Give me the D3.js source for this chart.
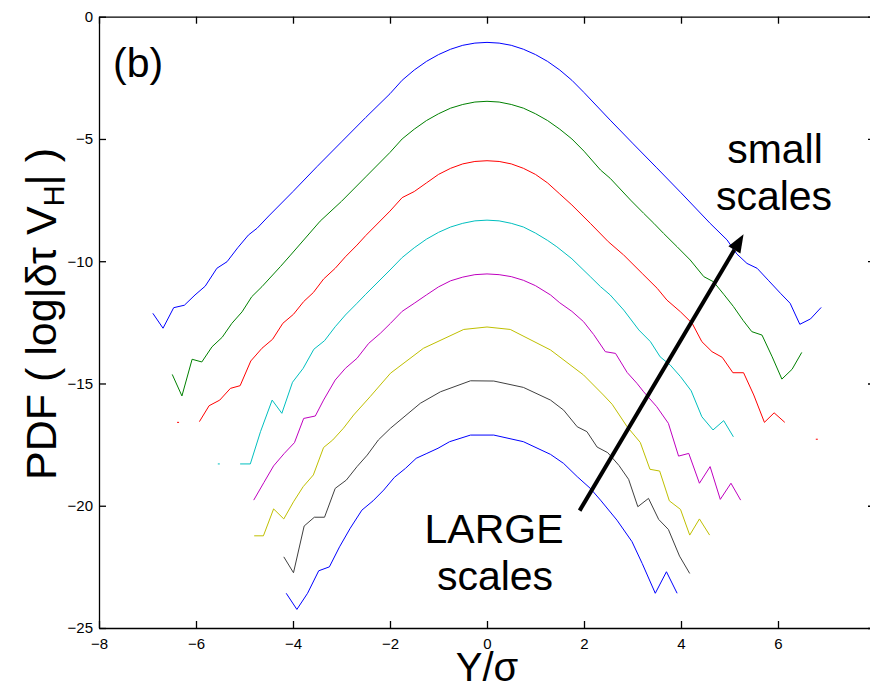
<!DOCTYPE html>
<html>
<head>
<meta charset="utf-8">
<script src="https://cdn.jsdelivr.net/npm/d3@7"></script>
<style>
  body { margin: 0; background: #fff; }
  svg { display: block; font-family: "Liberation Sans", Arial, Helvetica, sans-serif; }
  .axis path, .axis line { stroke: #000; stroke-width: 1.3; }
  .axis text { font-size: 15px; fill: #000; }
</style>
</head>
<body>
<svg id="chart" width="870" height="690"></svg>
<script>
// tick values
const xTicks = [-8, -6, -4, -2, 0, 2, 4, 6, 8];
const yTicks = [-25, -20, -15, -10, -5, 0];

// Y/sigma positions and log PDF values of each curve (null = empty bin)
const ys1 = [-6.89, -6.68, -6.46, -6.24, -6.02, -5.81, -5.57, -5.36, -5.14, -4.92, -4.74, -4.5, -4.0, -3.5, -3.0, -2.5, -2.0, -1.75, -1.5, -1.25, -1.0, -0.75, -0.5, -0.25, 0, 0.25, 0.5, 0.75, 1.0, 1.25, 1.5, 1.75, 2.0, 2.54, 3.0, 3.5, 4.0, 4.6, 4.95, 5.15, 5.36, 5.57, 5.81, 6.05, 6.25, 6.45, 6.67, 6.89];
const pdf1 = [-12.13, -12.74, -11.90, -11.80, -11.38, -11.02, -10.29, -10.02, -9.45, -8.93, -8.65, -8.15, -7.15, -6.12, -5.12, -4.12, -3.15, -2.6, -2.18, -1.83, -1.55, -1.33, -1.17, -1.08, -1.05, -1.08, -1.17, -1.33, -1.55, -1.83, -2.18, -2.6, -3.1, -4.23, -5.17, -6.18, -7.2, -8.45, -9.13, -9.7, -10.09, -10.29, -10.8, -11.31, -11.72, -12.58, -12.36, -11.89];

const ys2 = [-6.49, -6.29, -6.08, -5.88, -5.67, -5.46, -5.26, -5.05, -4.85, -4.64, -4.26, -4.05, -3.44, -3.0, -2.5, -2.0, -1.75, -1.5, -1.25, -1.0, -0.75, -0.5, -0.25, 0, 0.25, 0.5, 0.75, 1.0, 1.25, 1.5, 1.75, 2.0, 2.34, 2.54, 2.96, 3.23, 3.44, 3.64, 3.92, 4.19, 4.47, 4.67, 4.88, 5.08, 5.28, 5.46, 5.67, 5.88, 6.08, 6.29, 6.49];
const pdf2 = [-14.63, -15.51, -14.01, -14.12, -13.5, -13.11, -12.54, -12.07, -11.45, -11.04, -10.22, -9.75, -8.36, -7.55, -6.55, -5.55, -5.0, -4.6, -4.25, -3.97, -3.74, -3.59, -3.49, -3.46, -3.49, -3.59, -3.74, -3.97, -4.25, -4.6, -5.0, -5.5, -6.27, -6.61, -7.5, -8.04, -8.45, -8.86, -9.41, -9.95, -10.63, -10.84, -11.35, -11.85, -12.42, -12.88, -13.02, -13.91, -14.82, -14.42, -13.73];

const ys3 = [-6.37, -6.15, -5.93, -5.73, -5.51, -5.29, -5.09, -4.87, -4.64, -4.42, -4.21, -3.99, -3.78, -3.58, -3.37, -3.13, -2.92, -2.68, -2.5, -2.0, -1.75, -1.5, -1.25, -1.0, -0.75, -0.5, -0.25, 0, 0.25, 0.5, 0.75, 1.0, 1.25, 1.5, 1.75, 2.13, 2.5, 2.82, 3.2, 3.51, 3.71, 3.99, 4.23, 4.43, 4.64, 4.85, 5.07, 5.29, 5.50, 5.72, 5.92, 6.14, 6.47, 6.80];
const pdf3 = [-16.59, null, -16.56, -15.91, -15.68, -15.2, -15.09, -14.08, -13.56, -13.19, -12.54, -12.17, -11.65, -11.28, -10.73, -10.29, -9.82, -9.34, -8.95, -7.95, -7.4, -7.15, -6.8, -6.45, -6.2, -6.02, -5.92, -5.89, -5.92, -6.02, -6.2, -6.45, -6.8, -7.25, -7.7, -8.45, -9.2, -9.75, -10.5, -11.11, -11.59, -12.07, -12.54, -13.29, -13.7, -13.93, -14.56, -14.56, -15.47, -16.59, -16.2, -16.59, null, -17.28];

const ys4 = [-5.53, -5.31, -5.09, -4.88, -4.67, -4.43, -4.23, -4.01, -3.79, -3.57, -3.35, -3.13, -2.92, -2.68, -2.5, -2.0, -1.75, -1.5, -1.25, -1.0, -0.75, -0.5, -0.25, 0, 0.25, 0.5, 0.75, 1.0, 1.25, 1.44, 1.75, 2.13, 2.34, 2.54, 2.82, 3.13, 3.37, 3.57, 3.78, 3.99, 4.21, 4.43, 4.66, 4.88, 5.08];
const pdf4 = [-18.29, null, -18.29, -18.29, -16.97, -15.68, -16.22, -14.95, -14.38, -13.6, -13.25, -12.68, -12.2, -11.72, -11.35, -10.36, -9.85, -9.45, -9.1, -8.82, -8.6, -8.45, -8.35, -8.32, -8.35, -8.45, -8.6, -8.85, -9.15, -9.41, -9.9, -10.63, -11.04, -11.38, -12.0, -12.81, -13.29, -13.91, -14.25, -14.72, -15.3, -16.36, -16.9, -16.52, -17.18];

const ys5 = [-4.81, -4.6, -4.40, -4.18, -3.97, -3.78, -3.54, -3.37, -3.13, -2.92, -2.68, -2.44, -2.2, -1.99, -1.75, -1.5, -1.25, -1.0, -0.75, -0.5, -0.25, 0, 0.25, 0.5, 0.75, 1.0, 1.31, 1.5, 1.75, 1.99, 2.2, 2.44, 2.65, 2.89, 3.09, 3.23, 3.5, 3.74, 3.95, 4.16, 4.38, 4.6, 4.81, 5.03, 5.23];
const pdf5 = [-19.77, -19.05, -18.37, -17.86, -17.42, -16.43, -16.33, -15.68, -14.86, -14.38, -13.97, -13.36, -12.95, -12.54, -12.05, -11.72, -11.38, -11.05, -10.8, -10.65, -10.55, -10.52, -10.55, -10.63, -10.78, -11.0, -11.38, -11.7, -12.05, -12.47, -13.0, -13.7, -13.77, -14.55, -14.99, -15.34, -15.95, -16.63, -17.97, -17.86, -19.08, -18.4, -19.74, -19.08, -19.77];

const ys6 = [-4.80, -4.61, -4.40, -4.19, -3.99, -3.79, -3.58, -3.37, -3.18, -2.96, -2.75, -2.41, -1.99, -1.31, -0.48, 0, 0.48, 1.31, 1.99, 2.40, 2.58, 2.89, 3.16, 3.36, 3.56, 3.76, 3.99, 4.18, 4.38, 4.59];
const pdf6 = [-21.23, -21.23, -20.13, -20.54, -19.84, -19.22, -18.74, -17.62, -17.31, -16.83, -16.29, -15.54, -14.58, -13.56, -12.79, -12.69, -12.79, -13.63, -14.65, -15.47, -15.85, -16.77, -17.41, -18.51, -18.58, -19.8, -20.15, -21.2, -20.54, -21.2];

const ys7 = [-4.19, -3.99, -3.77, -3.56, -3.35, -3.13, -2.90, -2.68, -2.47, -2.24, -1.99, -1.375, -0.96, -0.34, 0.14, 0.75, 1.31, 1.58, 1.86, 2.06, 2.27, 2.49, 2.72, 2.92, 3.11, 3.33, 3.54, 3.74, 3.97, 4.18];
const pdf7 = [-22.09, -22.74, -20.83, -20.47, -20.47, -19.29, -18.95, -18.4, -17.93, -17.31, -16.83, -15.81, -15.34, -14.89, -14.9, -15.16, -15.68, -16.09, -16.77, -16.97, -17.6, -17.83, -18.35, -18.92, -20.04, -19.7, -20.56, -20.97, -22.06, -22.77];

const ys8 = [-4.14, -3.92, -3.70, -3.47, -3.25, -3.04, -2.82, -2.58, -2.35, -2.13, -1.91, -1.68, -1.46, -1.24, -1.01, -0.77, -0.34, 0.14, 0.75, 1.31, 1.58, 1.86, 2.13, 2.34, 2.68, 2.99, 3.20, 3.47, 3.70, 3.92];
const pdf8 = [-23.58, -24.24, -23.58, -22.66, -22.50, -21.68, -20.92, -20.18, -19.80, -19.36, -18.84, -18.47, -18.06, -17.86, -17.65, -17.38, -17.11, -17.11, -17.38, -17.9, -18.27, -18.81, -19.29, -19.77, -20.59, -21.47, -22.36, -23.58, -22.7, -23.58];

const curveX = [ys1, ys2, ys3, ys4, ys5, ys6, ys7, ys8];
const curveY = [pdf1, pdf2, pdf3, pdf4, pdf5, pdf6, pdf7, pdf8];
const curveColors = ['#0000ff', '#008000', '#ff0000', '#00bfbf', '#bf00bf', '#bfbf00', '#404040', '#0000ff'];

// arrow from large to small scales, in data units
const arrowFrom = [1.91, -20.2];
const arrowTo = [5.29, -8.9];

const svg = d3.select('#chart');
const x = d3.scaleLinear().domain([-8, 8]).range([99, 875]);
const y = d3.scaleLinear().domain([-25, 0]).range([628, 16.7]);

// curves
const line = d3.line()
    .defined(d => d[1] != null)
    .x(d => x(d[0]))
    .y(d => y(d[1]));

curveX.forEach((xs, i) => {
    const pts = xs.map((v, j) => [v, curveY[i][j]]);
    svg.append('path')
        .datum(pts)
        .attr('fill', 'none')
        .attr('stroke', curveColors[i])
        .attr('stroke-width', 1)
        .attr('d', line);
    // lone points between empty bins
    const lone = pts.filter((d, j) => d[1] != null &&
        (j === 0 || pts[j - 1][1] == null) &&
        (j === pts.length - 1 || pts[j + 1][1] == null));
    svg.selectAll(null).data(lone).enter().append('rect')
        .attr('x', d => x(d[0]) - 1)
        .attr('y', d => y(d[1]) - 0.5)
        .attr('width', 2)
        .attr('height', 1)
        .attr('fill', curveColors[i]);
});

// axes (box with inward ticks); the right edge of the box falls just outside the page
const xFmt = d => d >= 8 ? '' : d3.format('')(d);
svg.append('g').attr('class', 'axis')
    .attr('transform', 'translate(0,' + y(-25) + ')')
    .call(d3.axisBottom(x).tickValues(xTicks).tickSizeInner(-7).tickSizeOuter(0).tickPadding(10).tickFormat(xFmt));
svg.append('g').attr('class', 'axis')
    .attr('transform', 'translate(' + x(-8) + ',0)')
    .call(d3.axisLeft(y).tickValues(yTicks).tickSizeInner(-7).tickSizeOuter(0).tickPadding(6));
svg.append('g').attr('class', 'axis')
    .attr('transform', 'translate(0,' + y(0) + ')')
    .call(d3.axisTop(x).tickValues(xTicks).tickSizeInner(-7).tickSizeOuter(0).tickFormat(''));
svg.append('g').attr('class', 'axis')
    .attr('transform', 'translate(' + x(8) + ',0)')
    .call(d3.axisRight(y).tickValues(yTicks).tickSizeInner(-7).tickSizeOuter(0).tickFormat(''));

// arrow
const x0 = x(arrowFrom[0]), y0 = y(arrowFrom[1]);
const x1 = x(arrowTo[0]), y1 = y(arrowTo[1]);
const ang = Math.atan2(y1 - y0, x1 - x0);
const headLen = 18, headHalf = 7;
const bx = x1 - headLen * Math.cos(ang), by = y1 - headLen * Math.sin(ang);
svg.append('line')
    .attr('x1', x0).attr('y1', y0)
    .attr('x2', bx).attr('y2', by)
    .attr('stroke', '#000').attr('stroke-width', 4);
svg.append('polygon')
    .attr('points', [
        [x1, y1],
        [bx + headHalf * Math.sin(ang), by - headHalf * Math.cos(ang)],
        [bx - headHalf * Math.sin(ang), by + headHalf * Math.cos(ang)]
    ].map(p => p.join(',')).join(' '))
    .attr('fill', '#000');

// annotations
const big = 41;
svg.append('text').attr('x', 113).attr('y', 77)
    .attr('font-size', big).text('(b)');
svg.append('text').attr('x', 775).attr('y', 163).attr('text-anchor', 'middle')
    .attr('font-size', big).text('small');
svg.append('text').attr('x', 774).attr('y', 210).attr('text-anchor', 'middle')
    .attr('font-size', big).text('scales');
svg.append('text').attr('x', 494).attr('y', 543).attr('text-anchor', 'middle')
    .attr('font-size', big).text('LARGE');
svg.append('text').attr('x', 495).attr('y', 590).attr('text-anchor', 'middle')
    .attr('font-size', big).text('scales');

// axis labels
svg.append('text').attr('x', 487).attr('y', 681).attr('text-anchor', 'middle')
    .attr('font-size', 40).text('Y/σ');

const yl = svg.append('text')
    .attr('transform', 'translate(56,' + 314 + ') rotate(-90)')
    .attr('text-anchor', 'middle')
    .attr('font-size', 43);
yl.append('tspan').text('PDF ( log|δτ V');
yl.append('tspan').attr('font-size', 29).attr('dy', 8).text('H');
yl.append('tspan').attr('dy', -8).text('| )');
</script>
</body>
</html>
